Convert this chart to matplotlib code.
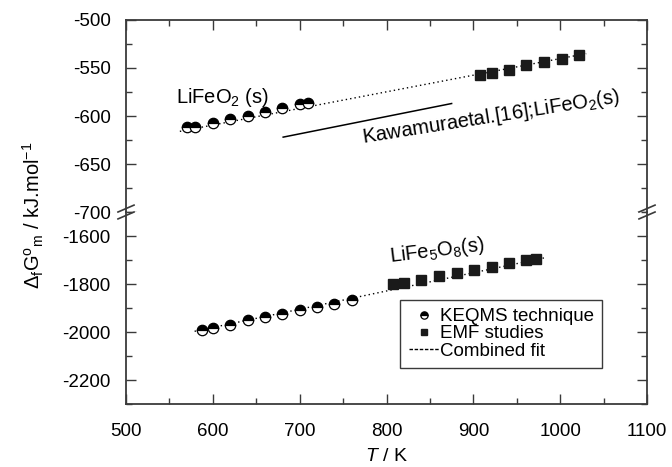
import numpy as np
import matplotlib
matplotlib.use("Agg")
import matplotlib.pyplot as plt
from matplotlib.lines import Line2D
from matplotlib.ticker import MultipleLocator, FixedLocator

plt.rcParams['font.family'] = ['Liberation Sans', 'DejaVu Sans']
plt.rcParams['mathtext.fontset'] = 'custom'
plt.rcParams['mathtext.rm'] = 'Liberation Sans'
plt.rcParams['mathtext.it'] = 'Liberation Sans:italic'
plt.rcParams['axes.unicode_minus'] = False

# ---------------------------------
# DATA
# ---------------------------------

# LiFeO2(s)
lfo_keqms_T = [570, 580, 600, 620, 640, 660, 680, 700, 710]
lfo_keqms_G = [-611.7, -611, -607.5, -603, -599.5, -596, -591.4, -587.2, -586.2]
lfo_emf_T = [908, 921, 941, 961, 981, 1002, 1022]
lfo_emf_G = [-556.9, -554.8, -551.6, -547.4, -544, -540.5, -536.6]
lfo_fit_T = [562, 1030]
lfo_fit_G = [-616, -535]
kawamura_T = [681, 875]
kawamura_G = [-622, -587]

# LiFe5O8(s)
lf5_keqms_T = [588, 600, 620, 640, 660, 680, 700, 720, 740, 760]
lf5_keqms_G = [-1991, -1983, -1969, -1952, -1938, -1924, -1910, -1897, -1882, -1868]
lf5_emf_T = [808, 820, 840, 861, 881, 901, 921, 941, 961, 972]
lf5_emf_G = [-1801, -1794, -1782, -1768, -1754, -1740, -1729, -1712, -1701, -1694]
lf5_fit_T = [579, 983]
lf5_fit_G = [-1997, -1690]

# ---------------------------------
# FIGURE
# ---------------------------------

edge = '#3a3a3a'
fig = plt.figure(figsize=(6.72, 4.67), dpi=100)
ax_top = fig.add_axes([0.1875, 0.5460, 0.7753, 0.4112])
ax_bot = fig.add_axes([0.1875, 0.1349, 0.7753, 0.4111])

circ = dict(marker='o', ls='none', ms=7.5, mew=0.9, fillstyle='top',
            markerfacecolor='black', markerfacecoloralt='white', markeredgecolor='black')
sq = dict(marker='s', ls='none', ms=6.5, color='#1a1a1a')
fit = dict(ls=(0, (1, 2.2)), color='black', lw=1.0)

ax_top.plot(lfo_fit_T, lfo_fit_G, **fit)
ax_top.plot(lfo_keqms_T, lfo_keqms_G, **circ)
ax_top.plot(lfo_emf_T, lfo_emf_G, **sq)
ax_top.plot(kawamura_T, kawamura_G, color='black', lw=1.1)

ax_bot.plot(lf5_fit_T, lf5_fit_G, **fit)
ax_bot.plot(lf5_keqms_T, lf5_keqms_G, **circ)
ax_bot.plot(lf5_emf_T, lf5_emf_G, **sq)

ax_top.set_ylim(-700, -500)
ax_bot.set_ylim(-2300, -1500)
for ax in (ax_top, ax_bot):
    ax.set_xlim(500, 1100)
    ax.xaxis.set_major_locator(MultipleLocator(100))
    ax.xaxis.set_minor_locator(MultipleLocator(50))
    ax.tick_params(which='both', direction='in', top=True, right=True,
                   color=edge, width=1.0, labelsize=13.5)
    ax.tick_params(which='major', length=7)
    ax.tick_params(which='minor', length=4)
    ax.tick_params(axis='y', pad=11)
    for s in ax.spines.values():
        s.set_color(edge)
        s.set_linewidth(1.3)

ax_top.yaxis.set_major_locator(MultipleLocator(50))
ax_top.yaxis.set_minor_locator(MultipleLocator(25))
ax_bot.yaxis.set_major_locator(FixedLocator([-2200, -2000, -1800, -1600]))
ax_bot.yaxis.set_minor_locator(FixedLocator([-2300, -2100, -1900, -1700, -1500]))

ax_top.spines['bottom'].set_visible(False)
ax_bot.spines['top'].set_visible(False)
ax_top.tick_params(which='both', bottom=False, labelbottom=False)
ax_bot.tick_params(which='both', top=False)
ax_bot.tick_params(axis='x', pad=14)

# break marks
dx, dy, off = 0.0154, 0.018, 0.018
for xpos in (0, 1):
    for yo in (-off, off):
        ax_bot.plot([xpos - dx, xpos + dx], [1 + yo - dy, 1 + yo + dy],
                    transform=ax_bot.transAxes, color=edge, lw=1.2, clip_on=False)

# labels
ax_top.text(558, -586, "LiFeO$_2$ (s)", fontsize=14.5, ha='left', va='baseline')
ax_top.text(773, -628, "Kawamuraetal.[16];LiFeO$_2$(s)", fontsize=14.5,
            rotation=9, rotation_mode='anchor', ha='left', va='baseline')
ax_bot.text(804, -1708, "LiFe$_5$O$_8$(s)", fontsize=14.5,
            rotation=7, rotation_mode='anchor', ha='left', va='baseline')

fig.text(0.575, 0.004, "$T$ / K", fontsize=14, ha='center', va='bottom')
fig.text(0.05, 0.54, r"$\Delta_{\mathrm{f}}\mathrm{G}^{\mathrm{o}}{}_{\mathrm{m}}$ / kJ.mol$^{-1}$",
         fontsize=14.5, rotation=90, ha='center', va='center')

handles = [
    Line2D([], [], **circ),
    Line2D([], [], **sq),
    Line2D([], [], ls=(0, (2.5, 1.2)), color='black', lw=1.0),
]
leg = ax_bot.legend(handles, ["KEQMS technique", "EMF studies", "Combined fit"],
                    loc='lower right', bbox_to_anchor=(0.914, 0.1875), fontsize=13.5,
                    frameon=True, fancybox=False, framealpha=1, edgecolor=edge,
                    handlelength=1.6, handletextpad=0.05, markerscale=0.7,
                    borderpad=0.45, labelspacing=0.0, borderaxespad=0)
leg.get_frame().set_linewidth(1.0)

fig.savefig("out.png", dpi=100)
